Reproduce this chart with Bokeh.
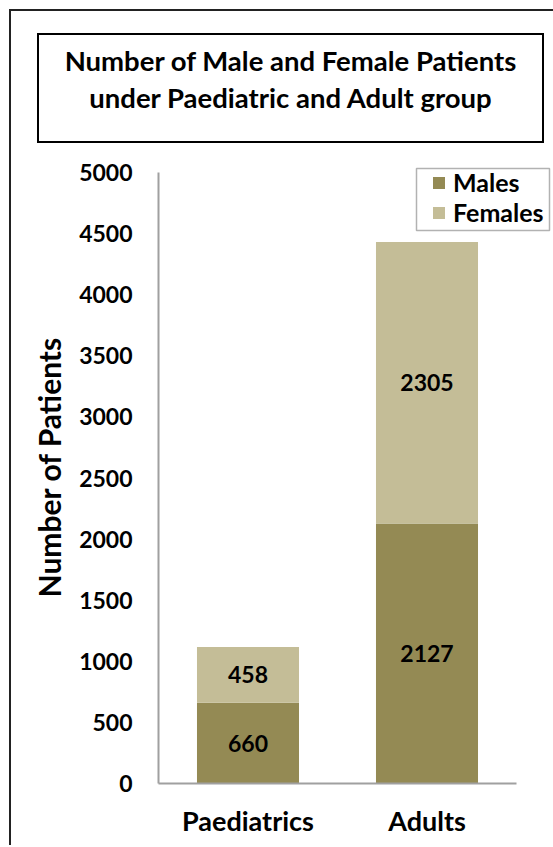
from bokeh.plotting import figure
from bokeh.layouts import column
from bokeh.models import (ColumnDataSource, Range1d, Legend, LegendItem, Div,
                          BoxAnnotation, FixedTicker, SingleIntervalTicker)
from bokeh.core.properties import value
from bokeh.embed import file_html
from bokeh.resources import INLINE

# Patient counts by group
groups = ["Paediatrics", "Adults"]
males = [660, 2127]
females = [458, 2305]
series = ["Males", "Females"]
colors = ["#948A54", "#C4BD97"]

title_lines = ["Number of Male and Female Patients", "under Paediatric and Adult group"]
y_title = "Number of Patients"

FONT = "Lato"

# page geometry
PAD = 11                  # outer border margin + width
HEAD_H = 139              # header block (title box) height
FIG_W, FIG_H = 553 - PAD, 695
FRAME_L = 158 - PAD       # frame left inside the figure canvas
FRAME_B = 783 - (PAD + HEAD_H)   # frame bottom inside the canvas

# y scale: 0 -> 783 px, 5000 -> 172 px on the page
px_per_unit = (783 - 172) / 5000
y_top = 5000 + (172 - (PAD + HEAD_H)) / px_per_unit
# x scale: one category = 179 px, axis from 158 to 516 px
cat_px = (516 - 158) / len(groups)
x_right = (553 - 158) / cat_px

xs = [i + 0.5 for i in range(len(groups))]

p = figure(width=FIG_W, height=FIG_H, x_range=Range1d(0, x_right), y_range=Range1d(0, y_top),
           output_backend="svg", toolbar_location=None,
           min_border_left=FRAME_L, min_border_right=0,
           min_border_top=0, min_border_bottom=FIG_H - FRAME_B)
p.outline_line_color = None
p.xgrid.grid_line_color = None
p.ygrid.grid_line_color = None
p.background_fill_color = "white"
p.border_fill_color = "white"

src = ColumnDataSource(dict(
    x=xs, group=groups, Males=males, Females=females,
    male_mid=[m / 2 for m in males],
    female_mid=[m + f / 2 for m, f in zip(males, females)],
    male_txt=[str(m) for m in males],
    female_txt=[str(f) for f in females],
))

bars = p.vbar_stack(series, x="x", width=0.57, color=colors, line_color=None, source=src)

# value labels centred in each segment
for ycol, tcol in (("male_mid", "male_txt"), ("female_mid", "female_txt")):
    p.text(x="x", y=ycol, text=tcol, source=src, text_align="center",
           text_baseline="middle", text_font=value(FONT), text_font_style="bold",
           text_font_size="23px", text_color="black")

# axes
p.yaxis.ticker = SingleIntervalTicker(interval=500)
p.yaxis.bounds = (0, 5000)
p.xaxis.ticker = FixedTicker(ticks=xs)
p.xaxis.major_label_overrides = {x: g for x, g in zip(xs, groups)}
p.xaxis.bounds = (0, len(groups))
for ax in (p.xaxis[0], p.yaxis[0]):
    ax.axis_line_color = "#A0A0A0"
    ax.axis_line_width = 2
    ax.major_tick_line_color = None
    ax.minor_tick_line_color = None
    ax.major_label_text_font = FONT
    ax.major_label_text_font_style = "bold"
    ax.major_label_text_color = "black"
p.yaxis.major_label_text_font_size = "23px"
p.yaxis.major_label_standoff = 20
p.xaxis.major_label_text_font_size = "27px"
p.xaxis.major_label_standoff = 14
p.yaxis.axis_label = y_title
p.yaxis.axis_label_text_font = FONT
p.yaxis.axis_label_text_font_style = "bold"
p.yaxis.axis_label_text_font_size = "30px"
p.yaxis.axis_label_text_color = "black"
p.yaxis.axis_label_standoff = 9

# legend: frame-relative pixel placement, outlined by its own box
legend = Legend(items=[LegendItem(label=s, renderers=[r]) for s, r in zip(series, bars)],
                location=(431 - 158, 783 - 227), orientation="vertical",
                label_text_font=FONT, label_text_font_style="bold",
                label_text_font_size="25px", label_text_color="black",
                glyph_width=15, glyph_height=15, label_standoff=7,
                label_height=30, spacing=0, padding=0, margin=0,
                border_line_color=None, background_fill_alpha=0)
p.add_layout(legend, "center")
p.add_layout(BoxAnnotation(left=416 - 158, right=549 - 158, top=783 - 168, bottom=783 - 230,
                           left_units="screen", right_units="screen",
                           top_units="screen", bottom_units="screen",
                           fill_color="white", fill_alpha=0, line_color="black",
                           line_width=1.5, level="overlay"))

# title box
title_html = (
    '<div style="position:relative;width:542px;height:139px;">'
    '<div style="position:absolute;left:26px;top:22px;width:507px;height:110px;'
    'box-sizing:border-box;border:2px solid #000;display:flex;flex-direction:column;'
    'align-items:center;justify-content:flex-start;padding-top:6.5px;'
    f'font-family:{FONT};font-weight:bold;font-size:27.5px;line-height:37px;color:#000;'
    'white-space:nowrap;">'
    + "".join(f"<div>{t}</div>" for t in title_lines) +
    '</div></div>'
)
header = Div(text=title_html, width=FIG_W, height=HEAD_H, margin=0)
p.margin = 0

page = column(header, p, margin=(PAD - 2, 0, 0, PAD - 2), spacing=0,
              styles={"border-left": "2px solid #222222", "border-top": "2px solid #222222"})

open("out.html", "w").write(file_html(page, INLINE))
